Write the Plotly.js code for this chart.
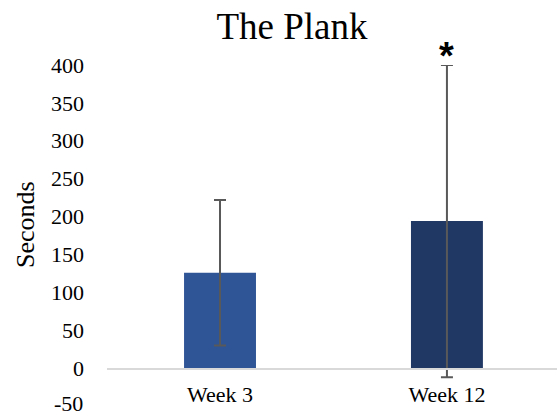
<!DOCTYPE html>
<html>
<head>
<meta charset="utf-8">
<script src="https://cdn.plot.ly/plotly-3.0.1.min.js"></script>
<style>
  html, body { margin: 0; padding: 0; background: #ffffff; }
  #chart { width: 557px; height: 416px; }
</style>
</head>
<body>
<div id="chart"></div>
<script>
// Plank hold times (seconds), mean with standard deviation
const weeks = ['Week 3', 'Week 12'];
const meanSeconds = [126, 194];
const sdSeconds = [96, 206];
const barColors = ['#2F5597', '#203864'];
const yTicks = [0, 50, 100, 150, 200, 250, 300, 350, 400];
const yMinLabel = '-50';

const serif = 'Liberation Serif, Times New Roman, serif';

const trace = {
  type: 'bar',
  x: weeks,
  y: meanSeconds,
  width: 0.317,
  marker: { color: barColors, line: { width: 0 } },
  error_y: {
    type: 'data',
    array: sdSeconds,
    visible: true,
    color: '#595959',
    thickness: 2,
    width: 6
  },
  hoverinfo: 'skip'
};

const plotTop = 65, plotBottom = 10;
const plotH = 416 - plotTop - plotBottom;

const layout = {
  width: 557,
  height: 416,
  margin: { l: 107, r: 0, t: plotTop, b: plotBottom },
  paper_bgcolor: '#ffffff',
  plot_bgcolor: '#ffffff',
  showlegend: false,
  title: {
    text: 'The Plank',
    font: { family: serif, size: 37, color: '#000000' },
    x: 292 / 557,
    xanchor: 'center',
    xref: 'container',
    y: 1 - 26 / 416,
    yanchor: 'middle',
    yref: 'container'
  },
  xaxis: {
    type: 'category',
    range: [-0.498, 1.485],
    anchor: 'free',
    position: 50 / 450,
    showline: true,
    linecolor: '#d9d9d9',
    linewidth: 1.5,
    showgrid: false,
    zeroline: false,
    ticks: '',
    ticklabelstandoff: 6,
    tickfont: { family: serif, size: 22, color: '#000000' },
    fixedrange: true
  },
  yaxis: {
    range: [-50, 400],
    tickvals: yTicks,
    showgrid: false,
    zeroline: false,
    showline: false,
    ticks: '',
    ticklabelstandoff: 22,
    tickfont: { family: serif, size: 22, color: '#000000' },
    fixedrange: true
  },
  annotations: [
    {
      // lowest axis label, nudged up so it stays inside the page
      text: yMinLabel,
      xref: 'paper', yref: 'paper',
      x: (85 - 107) / 450, y: 3 / plotH,
      xanchor: 'right', yanchor: 'middle',
      showarrow: false,
      font: { family: serif, size: 22, color: '#000000' }
    },
    {
      text: 'Seconds',
      textangle: -90,
      xref: 'paper', yref: 'paper',
      x: (25 - 107) / 450, y: (416 - plotBottom - 225) / plotH,
      xanchor: 'center', yanchor: 'middle',
      showarrow: false,
      font: { family: serif, size: 26, color: '#000000' }
    },
    {
      text: '<b>*</b>',
      xref: 'x', yref: 'y',
      x: 'Week 12', y: meanSeconds[1] + sdSeconds[1],
      xanchor: 'center', yanchor: 'bottom',
      yshift: -14,
      showarrow: false,
      font: { family: 'Liberation Sans, Arial, sans-serif', size: 38, color: '#000000' }
    }
  ]
};

Plotly.newPlot('chart', [trace], layout, { staticPlot: true, displayModeBar: false });
</script>
</body>
</html>
